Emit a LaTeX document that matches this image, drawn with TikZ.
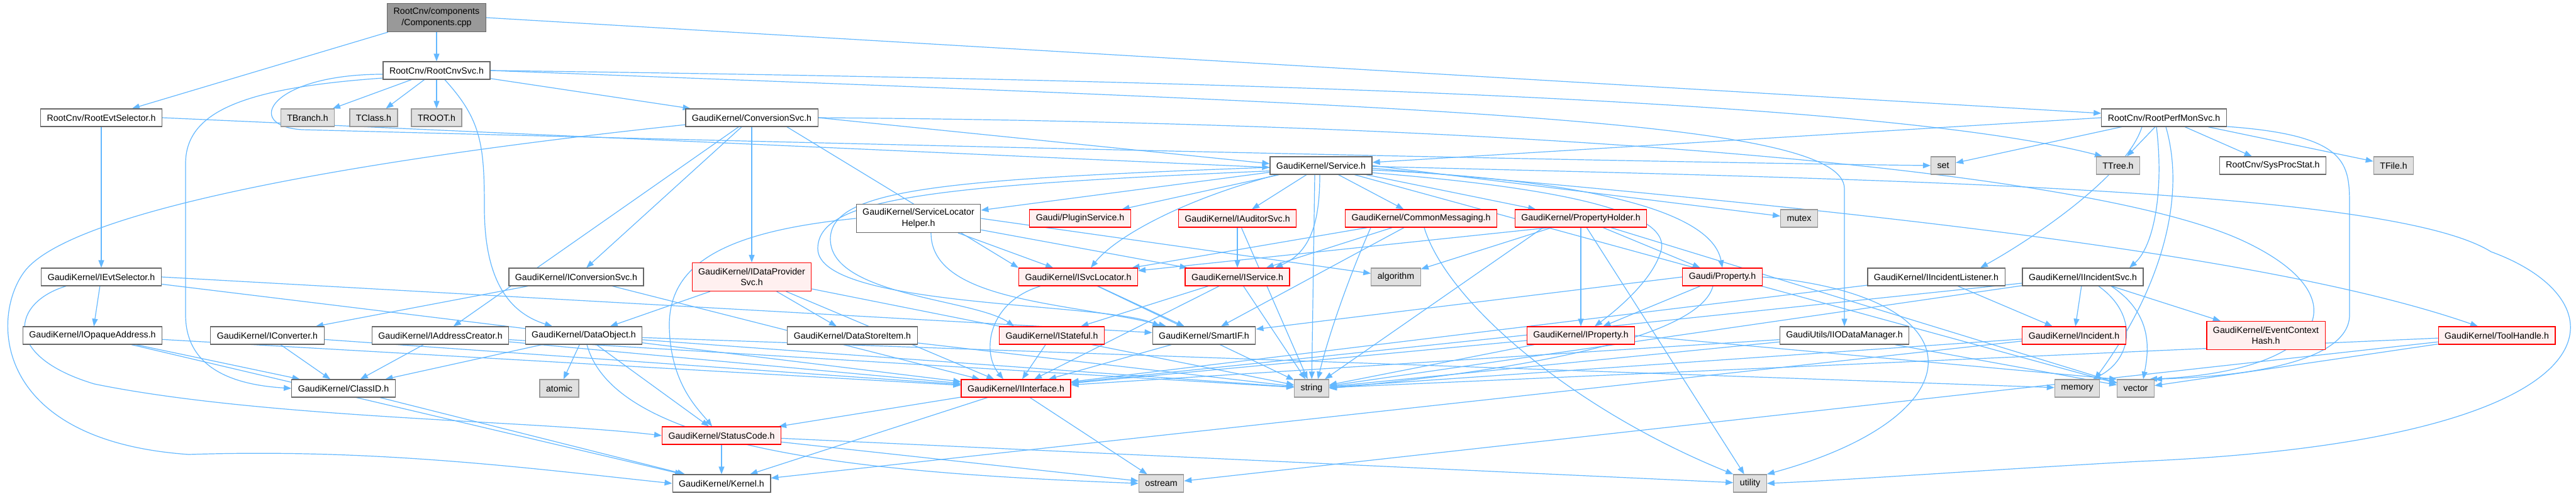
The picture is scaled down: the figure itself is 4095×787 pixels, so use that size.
\documentclass[tikz,border=0pt]{standalone}
\usepackage{fontspec}
\setmainfont{Liberation Sans}
\usetikzlibrary{arrows.meta}
\definecolor{lnk}{HTML}{63B8FF}
\definecolor{frame}{HTML}{666666}
\definecolor{sysfill}{HTML}{E0E0E0}
\definecolor{sysline}{HTML}{999999}
\definecolor{truncfill}{HTML}{FFF0F0}
\definecolor{topfill}{HTML}{999999}
\pgfdeclarelayer{bg}
\pgfsetlayers{bg,main}

\begin{document}
\begin{tikzpicture}[x=1pt, y=-1pt,
  font=\fontsize{14.2}{17.5}\selectfont,
  hdr/.style={draw=frame, fill=white, line width=1.2pt, minimum height=28pt,
              inner xsep=10pt, inner ysep=2pt, align=center},
  sys/.style={hdr, draw=sysline, fill=sysfill},
  trunc/.style={hdr, draw=red, fill=truncfill},
  top/.style={hdr, fill=topfill},
  two/.style={minimum height=45pt},
  dep/.style={draw=lnk, line width=1.2pt, -{Triangle[length=12pt,width=9pt]}}
]
\useasboundingbox (0,0) rectangle (4095,787);
% rows of the include graph
\node[top, two] (CPP) at (694,28) {RootCnv/components\\/Components.cpp};
\node[hdr] (CNV) at (694,112) {RootCnv/RootCnvSvc.h};
\node[hdr] (SEL) at (161,187) {RootCnv/RootEvtSelector.h};
\node[sys] (TB) at (489,187) {TBranch.h};
\node[sys] (TC) at (594,187) {TClass.h};
\node[sys] (TR) at (694,187) {TROOT.h};
\node[hdr] (CS) at (1195,187) {GaudiKernel/ConversionSvc.h};
\node[hdr] (PMS) at (3440,187) {RootCnv/RootPerfMonSvc.h};
\node[hdr] (SVC) at (2100,263) {GaudiKernel/Service.h};
\node[sys] (SET) at (3089,263) {set};
\node[sys] (TT) at (3367,263) {TTree.h};
\node[hdr] (SPS) at (3613,263) {RootCnv/SysProcStat.h};
\node[sys] (TF) at (3805,263) {TFile.h};
\node[hdr, two] (SLH) at (1460,347) {GaudiKernel/ServiceLocator\\Helper.h};
\node[trunc] (PLG) at (1717,347) {Gaudi/PluginService.h};
\node[trunc] (AUD) at (1967,347) {GaudiKernel/IAuditorSvc.h};
\node[trunc] (CM) at (2259,347) {GaudiKernel/CommonMessaging.h};
\node[trunc] (PH) at (2513,347) {GaudiKernel/PropertyHolder.h};
\node[sys] (MTX) at (2860,347) {mutex};
\node[hdr] (IES) at (161,440) {GaudiKernel/IEvtSelector.h};
\node[hdr] (ICS) at (916,440) {GaudiKernel/IConversionSvc.h};
\node[trunc, two] (IDP) at (1195,440) {GaudiKernel/IDataProvider\\Svc.h};
\node[trunc] (ISL) at (1714,440) {GaudiKernel/ISvcLocator.h};
\node[trunc] (IS) at (1967,440) {GaudiKernel/IService.h};
\node[sys] (ALG) at (2219,440) {algorithm};
\node[trunc] (PRP) at (2738,440) {Gaudi/Property.h};
\node[hdr] (IIL) at (3078,440) {GaudiKernel/IIncidentListener.h};
\node[hdr] (IIS) at (3311,440) {GaudiKernel/IIncidentSvc.h};
\node[hdr] (IOA) at (147,533) {GaudiKernel/IOpaqueAddress.h};
\node[hdr] (ICV) at (425,533) {GaudiKernel/IConverter.h};
\node[hdr] (IAC) at (700,533) {GaudiKernel/IAddressCreator.h};
\node[hdr] (DO) at (928,533) {GaudiKernel/DataObject.h};
\node[hdr] (DSI) at (1355,533) {GaudiKernel/DataStoreItem.h};
\node[trunc] (IST) at (1672,533) {GaudiKernel/IStateful.h};
\node[hdr] (SIF) at (1914,533) {GaudiKernel/SmartIF.h};
\node[trunc] (IP) at (2513,533) {GaudiKernel/IProperty.h};
\node[hdr] (IOD) at (2932,533) {GaudiUtils/IIODataManager.h};
\node[trunc] (INC) at (3297,533) {GaudiKernel/Incident.h};
\node[trunc, two] (ECH) at (3602,533) {GaudiKernel/EventContext\\Hash.h};
\node[trunc] (TH) at (3969,533) {GaudiKernel/ToolHandle.h};
\node[hdr] (CID) at (546,617) {GaudiKernel/ClassID.h};
\node[sys] (ATM) at (889,617) {atomic};
\node[trunc] (II) at (1615,617) {GaudiKernel/IInterface.h};
\node[sys] (STR) at (2085,617) {string};
\node[sys] (MEM) at (3302,617) {memory};
\node[sys] (VEC) at (3395,617) {vector};
\node[trunc] (SC) at (1147,692) {GaudiKernel/StatusCode.h};
\node[hdr] (KRN) at (1147,768) {GaudiKernel/Kernel.h};
\node[sys] (OST) at (1846,768) {ostream};
\node[sys] (UTL) at (2782,768) {utility};

\begin{pgfonlayer}{bg}
\fill[white] (0,0) rectangle (4095,787);
% components file
\draw[dep] (CPP) -- (CNV);
\draw[dep] (CPP) -- (SEL);
\draw[dep] (CPP.east) -- ([yshift=7pt]PMS.west);
% RootCnvSvc
\draw[dep] (CNV) -- (TB);
\draw[dep] (CNV) -- (TC);
\draw[dep] (CNV) -- (TR);
\draw[dep] (CNV) -- (CS);
\draw[dep] (CNV.-172) .. controls (380,140) and (295,180) .. (295,260) -- (295,500) .. controls (295,590) and (380,612) .. (CID.west);
\draw[dep] (CNV.-176) .. controls (430,118) and (385,200) .. (480,206) .. controls (1300,228) and (2500,256) .. (SET.west);
\draw[dep] ([xshift=13pt]CNV.south) .. controls (765,190) and (770,230) .. (770,330) .. controls (770,460) and (820,500) .. ([xshift=-50pt]DO.north);
\draw[dep] (CNV.east) .. controls (2000,128) and (3000,160) .. ([xshift=-25pt]TT.north);
\draw[dep] (CNV.east) .. controls (2300,170) and (2932,190) .. (2932,300) -- (IOD.north);
% RootEvtSelector
\draw[dep] (SEL) -- (IES);
\draw[dep] (SEL.east) -- ([yshift=-3pt]SVC.west);
% RootPerfMonSvc
\draw[dep] (PMS.west) -- ([yshift=5pt]SVC.east);
\draw[dep] (PMS) -- (SET);
\draw[dep] (PMS) -- (TT);
\draw[dep] (PMS) -- (SPS);
\draw[dep] (PMS) -- (TF);
\draw[dep] ([xshift=-35pt]PMS.south) .. controls (3380,280) and (3230,380) .. ([xshift=70pt]IIL.north);
\draw[dep] ([xshift=-12pt]PMS.south) .. controls (3440,300) and (3425,390) .. ([xshift=74pt]IIS.north);
\draw[dep] ([xshift=3pt]PMS.south) .. controls (3480,330) and (3420,480) .. ([xshift=28pt]MEM.north);
\draw[dep] (PMS.-8) .. controls (3735,215) and (3735,260) .. (3735,330) -- (3735,500) .. controls (3735,590) and (3500,600) .. (VEC.north east);
% ConversionSvc
\draw[dep] (CS.east) -- ([yshift=3pt]SVC.west);
\draw[dep] (CS) -- (IAC);
\draw[dep] (CS) -- (ICS);
\draw[dep] (CS) -- (IDP);
\draw[dep] ([xshift=56pt]CS.south) -- (ISL.north west);
\draw[dep] (CS.-174) .. controls (600,250) and (120,330) .. (40,430) .. controls (-15,500) and (-15,700) .. (300,722) .. controls (600,712) and (850,745) .. (KRN.west);
\draw[dep] (CS.east) .. controls (2400,195) and (3300,265) .. (3560,380) .. controls (3760,470) and (3700,590) .. ([xshift=-8pt]VEC.north east);
% Service
\draw[dep] (SVC) -- (SLH);
\draw[dep] (SVC) -- (PLG);
\draw[dep] (SVC) -- (AUD);
\draw[dep] (SVC) -- (CM);
\draw[dep] (SVC) -- (PH);
\draw[dep] (SVC.east) -- (MTX);
\draw[dep] ([xshift=-10pt]SVC.south) -- (STR);
\draw[dep] (SVC) -- (VEC);
\draw[dep] ([xshift=-2pt]SVC.south) .. controls (2098,350) and (2085,400) .. ([xshift=60pt]IS.north);
\draw[dep] ([xshift=-70pt]SVC.south) .. controls (1870,320) and (1770,380) .. ([xshift=20pt]ISL.north);
\draw[dep] (SVC.-178) .. controls (1500,285) and (1320,300) .. (1320,380) .. controls (1320,470) and (1550,475) .. ([xshift=-60pt]IST.north);
\draw[dep] (SVC.-174) .. controls (1480,295) and (1300,315) .. (1300,395) .. controls (1300,490) and (1760,480) .. ([xshift=-70pt]SIF.north);
\draw[dep] (SVC.-8) .. controls (2500,300) and (2660,340) .. (2640,400) .. controls (2625,450) and (2560,500) .. ([xshift=22pt]IP.north);
\draw[dep] (SVC.-5) .. controls (2500,285) and (2720,330) .. (PRP.north);
\draw[dep] (SVC.-3) .. controls (2900,330) and (3600,400) .. ([xshift=-30pt]TH.north);
\draw[dep] (SVC.-1) .. controls (3000,285) and (3800,300) .. (3960,400) .. controls (4180,480) and (4180,700) .. (3400,733) .. controls (3100,750) and (2950,762) .. (UTL.east);
% ServiceLocatorHelper, IAuditorSvc, CommonMessaging
\draw[dep] (SLH) -- (ISL);
\draw[dep] (SLH) -- (IS);
\draw[dep] (SLH.east) -- (ALG);
\draw[dep] ([xshift=20pt]SLH.south) .. controls (1480,480) and (1700,480) .. ([xshift=-60pt]SIF.north);
\draw[dep] (SLH.west) .. controls (1150,368) and (1062,420) .. (1064,520) .. controls (1066,610) and (1110,650) .. ([xshift=-15pt]SC.north);
\draw[dep] (AUD) -- (IS);
\draw[dep] (AUD) -- (STR);
\draw[dep] (CM) -- (ISL);
\draw[dep] (CM) -- (IS);
\draw[dep] (CM) -- (SIF);
\draw[dep] ([xshift=-80pt]CM.south) .. controls (2140,450) and (2110,540) .. ([xshift=10pt]STR.north);
\draw[dep] ([xshift=5pt]CM.south) .. controls (2300,480) and (2500,650) .. (UTL.north west);
% PropertyHolder, Property, IProperty
\draw[dep] (PH) -- (IP);
\draw[dep] (PH) -- (PRP);
\draw[dep] (PH) -- (ALG);
\draw[dep] ([xshift=-50pt]PH.south) -- (ISL);
\draw[dep] ([xshift=-60pt]PH.south) -- (STR);
\draw[dep] (PH) -- (UTL);
\draw[dep] (PH) -- (VEC);
\draw[dep] (PRP) -- (IP);
\draw[dep] (PRP.west) -- (SIF);
\draw[dep] ([xshift=-15pt]PRP.south) .. controls (2700,540) and (2400,590) .. (STR.east);
\draw[dep] (PRP.east) .. controls (3150,470) and (3150,660) .. (UTL.north east);
\draw[dep] (IP) -- (II);
\draw[dep] (IP) -- (STR);
\draw[dep] (IP.east) -- (VEC.north west);
% locator, service, state
\draw[dep] ([xshift=-60pt]ISL.south) .. controls (1570,480) and (1560,560) .. ([xshift=-20pt]II.north);
\draw[dep] (ISL) -- (SIF);
\draw[dep] (ISL) -- (STR);
\draw[dep] (IS) -- (IST);
\draw[dep] (IS) -- (II);
\draw[dep] (IS) -- (STR);
\draw[dep] (IST) -- (II);
\draw[dep] (SIF) -- (II);
% incidents, IO, tools
\draw[dep] (IIL) -- (II);
\draw[dep] (IIL) -- (INC);
\draw[dep] (IIS) -- (INC);
\draw[dep] (IIS) -- (II);
\draw[dep] (IIS) -- (STR);
\draw[dep] (IIS) -- (ECH);
\draw[dep] ([xshift=25pt]IIS.south) .. controls (3400,500) and (3390,570) .. ([xshift=25pt]MEM.north);
\draw[dep] ([xshift=45pt]IIS.south) .. controls (3425,500) and (3415,560) .. ([xshift=12pt]VEC.north);
\draw[dep] (INC) -- (STR);
\draw[dep] (INC) -- (KRN);
\draw[dep] (IOD) -- (II);
\draw[dep] (IOD) -- (STR);
\draw[dep] (IOD) -- (VEC);
\draw[dep] (TH) -- (VEC);
\draw[dep] (TH) -- (STR);
\draw[dep] (TH) -- (OST);
% conversion interfaces
\draw[dep] (ICS) -- (ICV);
\draw[dep] (ICS) -- (II);
\draw[dep] (ICV) -- (CID);
\draw[dep] (ICV) -- (II);
\draw[dep] (IAC) -- (CID);
\draw[dep] (IAC) -- (II);
\draw[dep] (IAC) -- (STR);
\draw[dep] (IES) -- (IOA);
\draw[dep] (IES.east) -- (SIF);
\draw[dep] (IES) -- (II);
\draw[dep] ([xshift=-56pt]IES.south) .. controls (20,480) and (0,565) .. (150,610) .. controls (420,665) and (850,668) .. (SC.west);
\draw[dep] (IOA) -- (CID);
\draw[dep] (IOA) -- (KRN);
\draw[dep] (IOA) -- (II);
% data objects
\draw[dep] (IDP) -- (DO);
\draw[dep] (IDP) -- (DSI);
\draw[dep] (IDP) -- (II);
\draw[dep] (IDP) -- (STR);
\draw[dep] (DSI) -- (STR);
\draw[dep] (DO) -- (ATM);
\draw[dep] (DO) -- (SC);
\draw[dep] (DO) -- (CID);
\draw[dep] (DO) -- (STR);
\draw[dep] (DO) -- (MEM);
\draw[dep] ([xshift=5pt]DO.south) .. controls (980,720) and (1400,752) .. (OST.west);
% bottom
\draw[dep] (CID) -- (KRN);
\draw[dep] (SC) -- (KRN);
\draw[dep] (SC) -- (OST);
\draw[dep] (SC) -- (UTL);
\draw[dep] (II) -- (SC);
\draw[dep] (II) -- (KRN);
\draw[dep] (II) -- (OST);
\end{pgfonlayer}
\end{tikzpicture}
\end{document}
